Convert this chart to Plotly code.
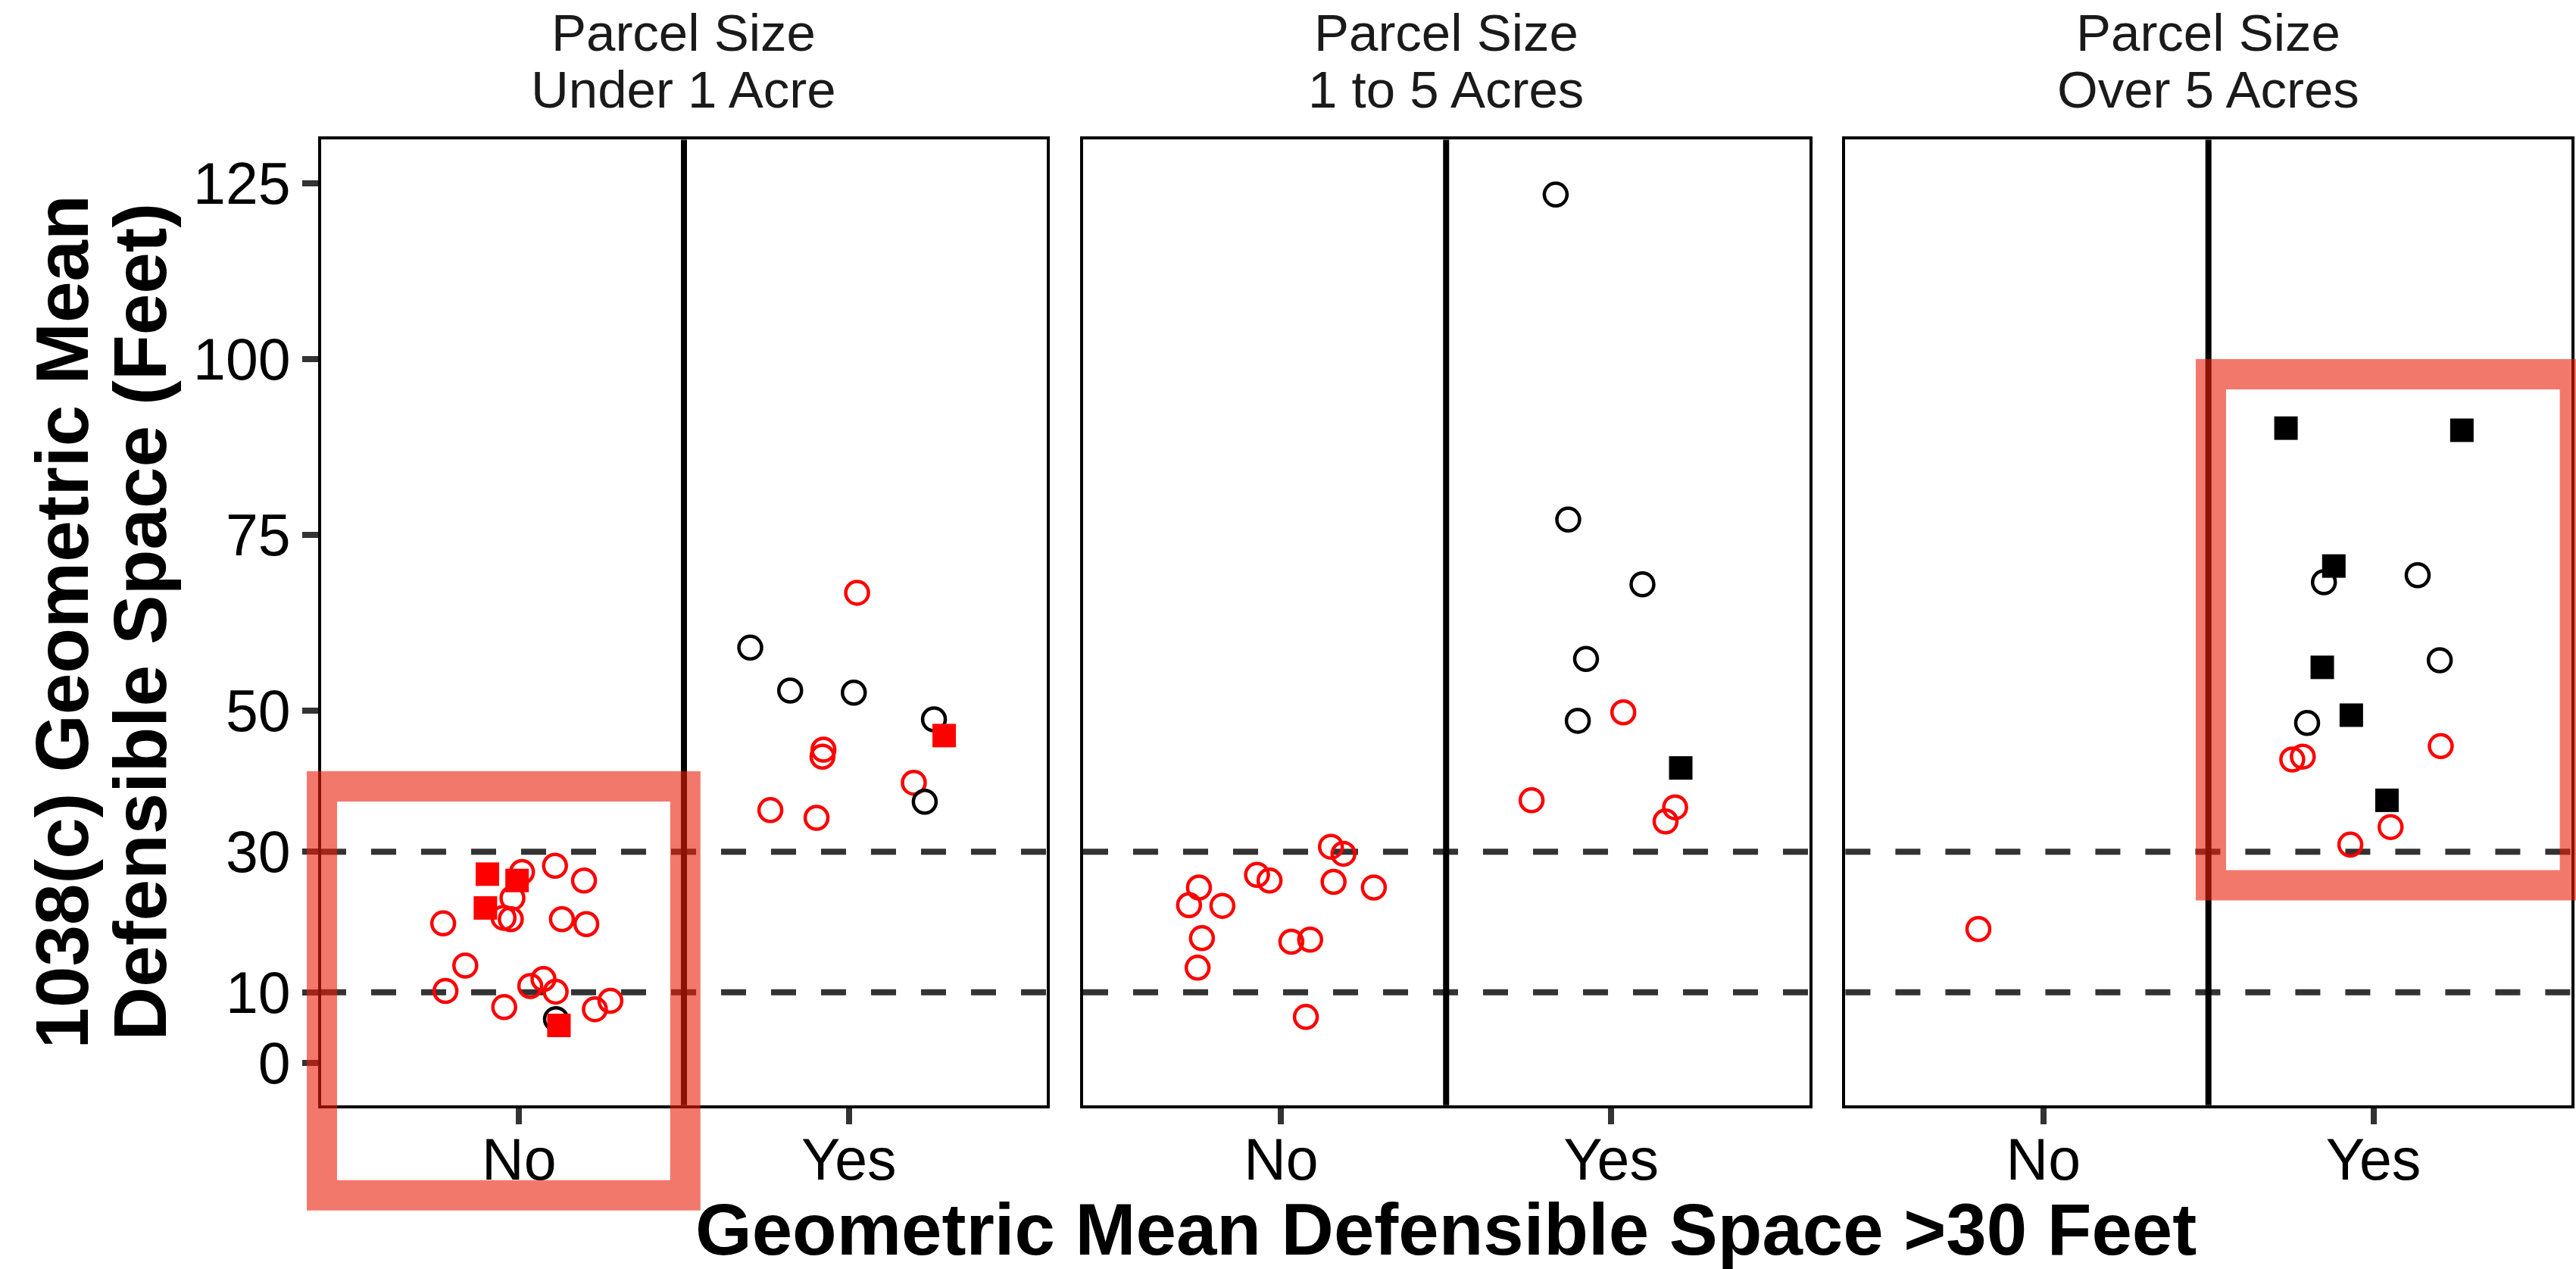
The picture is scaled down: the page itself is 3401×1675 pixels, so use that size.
import plotly.graph_objects as go

W, H = 3401, 1675
FONT = "Liberation Sans"

# ---------------- data ----------------
panel_labels = ["Parcel Size<br>Under 1 Acre", "Parcel Size<br>1 to 5 Acres", "Parcel Size<br>Over 5 Acres"]
x_categories = ["No", "Yes"]          # plotted at 1 and 2 (points jittered)
y_ticks = [0, 10, 30, 50, 75, 100, 125]
thresholds = [10, 30]

# Panel 1: Under 1 Acre
p1_red_circ_x = [1.009, 1.109, 1.197, 0.980, 0.770, 0.953, 0.975, 1.130, 1.204, 0.837, 0.777, 1.034,
                 1.074, 1.111, 0.955, 1.230, 1.277, 2.025, 1.923, 1.920, 2.197, 1.762, 1.902]
p1_red_circ_y = [27.1, 28.0, 25.9, 23.4, 19.8, 20.6, 20.4, 20.4, 19.7, 13.8, 10.2, 10.9,
                 11.9, 10.1, 7.9, 7.6, 8.8, 66.8, 44.5, 43.5, 39.8, 35.9, 34.8]
p1_blk_circ_x = [1.112, 1.701, 1.822, 2.015, 2.258, 2.230]
p1_blk_circ_y = [6.2, 59.0, 52.9, 52.6, 48.8, 37.1]
p1_red_sq_x = [0.904, 0.994, 0.898, 1.121, 2.289]
p1_red_sq_y = [26.8, 25.9, 22.0, 5.3, 46.5]
p1_blk_sq_x = []
p1_blk_sq_y = []

# Panel 2: 1 to 5 Acres
p2_red_circ_x = [1.151, 1.189, 0.927, 0.965, 1.159, 1.281, 0.751, 0.721, 0.822, 0.760, 1.031, 1.088,
                 0.747, 1.075, 2.037, 1.759, 2.194, 2.165]
p2_red_circ_y = [30.7, 29.7, 26.7, 25.9, 25.7, 24.9, 24.9, 22.4, 22.3, 17.7, 17.2, 17.5,
                 13.5, 6.5, 49.8, 37.3, 36.3, 34.3]
p2_blk_circ_x = [1.832, 1.870, 2.095, 1.924, 1.899]
p2_blk_circ_y = [123.4, 77.2, 68.0, 57.4, 48.6]
p2_red_sq_x = []
p2_red_sq_y = []
p2_blk_sq_x = [2.211]
p2_blk_sq_y = [41.9]

# Panel 3: Over 5 Acres
p3_red_circ_x = [0.803, 1.754, 1.786, 2.204, 2.052, 1.930]
p3_red_circ_y = [19.0, 43.1, 43.5, 45.0, 33.5, 31.0]
p3_blk_circ_x = [1.850, 2.134, 2.201, 1.799]
p3_blk_circ_y = [68.3, 69.3, 57.2, 48.3]
p3_red_sq_x = []
p3_red_sq_y = []
p3_blk_sq_x = [1.735, 2.268, 1.880, 1.845, 1.933, 2.041]
p3_blk_sq_y = [90.2, 89.9, 70.6, 56.2, 49.4, 37.3]

panels = [
    (p1_red_circ_x, p1_red_circ_y, p1_blk_circ_x, p1_blk_circ_y, p1_red_sq_x, p1_red_sq_y, p1_blk_sq_x, p1_blk_sq_y),
    (p2_red_circ_x, p2_red_circ_y, p2_blk_circ_x, p2_blk_circ_y, p2_red_sq_x, p2_red_sq_y, p2_blk_sq_x, p2_blk_sq_y),
    (p3_red_circ_x, p3_red_circ_y, p3_blk_circ_x, p3_blk_circ_y, p3_red_sq_x, p3_red_sq_y, p3_blk_sq_x, p3_blk_sq_y),
]

# ---------------- layout geometry (pixels) ----------------
px_panels = [(424, 1382), (1430, 2388.5), (2436.4, 3395)]
py_top, py_bot = 184.4, 1458.7
y_range = [-6.03, 131.2]
x_range = [0.4, 2.6]

def fx(px):
    return px / W

def fy(py):
    return 1 - py / H

fig = go.Figure()

for i, (rcx, rcy, bcx, bcy, rsx, rsy, bsx, bsy) in enumerate(panels):
    ax = "" if i == 0 else str(i + 1)
    xa, ya = "x" + ax, "y" + ax
    circ = dict(symbol="circle-open", size=30, line=dict(width=4.5))
    fig.add_trace(go.Scatter(x=rcx, y=rcy, mode="markers", xaxis=xa, yaxis=ya,
                             marker=dict(color="#FF0000", **circ), showlegend=False))
    fig.add_trace(go.Scatter(x=bcx, y=bcy, mode="markers", xaxis=xa, yaxis=ya,
                             marker=dict(color="#000000", **circ), showlegend=False))
    sq = dict(symbol="square", size=31, line=dict(width=0))
    fig.add_trace(go.Scatter(x=rsx, y=rsy, mode="markers", xaxis=xa, yaxis=ya,
                             marker=dict(color="#FF0000", **sq), showlegend=False))
    fig.add_trace(go.Scatter(x=bsx, y=bsy, mode="markers", xaxis=xa, yaxis=ya,
                             marker=dict(color="#000000", **sq), showlegend=False))

axis_common = dict(showgrid=False, zeroline=False, showline=True, mirror=True,
                   linecolor="black", linewidth=4, automargin=False)

layout = dict(
    width=W, height=H,
    margin=dict(l=0, r=0, t=0, b=0),
    paper_bgcolor="white", plot_bgcolor="white",
    template="none",
    showlegend=False,
    font=dict(family=FONT, color="black"),
)

shapes = []
annotations = []
for i, (x0p, x1p) in enumerate(px_panels):
    ax = "" if i == 0 else str(i + 1)
    layout["xaxis" + ax] = dict(
        domain=[fx(x0p), fx(x1p)], range=x_range, anchor="y" + ax,
        tickmode="array", tickvals=[1, 2], ticktext=x_categories,
        ticks="outside", ticklen=21, tickwidth=8, tickcolor="#333333",
        ticklabelstandoff=-19,
        tickfont=dict(family=FONT, size=77, color="black"),
        **axis_common)
    ydict = dict(domain=[fy(py_bot), fy(py_top)], range=y_range, anchor="x" + ax,
                 tickmode="array", tickvals=y_ticks, **axis_common)
    if i == 0:
        ydict.update(ticks="outside", ticklen=21, tickwidth=8, tickcolor="#333333",
                     tickfont=dict(family=FONT, size=77, color="black"))
    else:
        ydict.update(ticks="", showticklabels=False, matches="y")
    layout["yaxis" + ax] = ydict

    # dashed threshold lines
    for t in thresholds:
        shapes.append(dict(type="line", xref=("x" + ax + " domain"), yref="y" + ax,
                           x0=0, x1=1, y0=t, y1=t, layer="below",
                           line=dict(color="#333333", width=8, dash="33px,33px")))
    # divider between No / Yes
    shapes.append(dict(type="line", xref="x" + ax, yref=("y" + ax + " domain"),
                       x0=1.5, x1=1.5, y0=0, y1=1, layer="below",
                       line=dict(color="black", width=8)))
    # strip labels
    line1, line2 = panel_labels[i].split("<br>")
    cx = fx((x0p + x1p) / 2)
    annotations.append(dict(text=line1, x=cx, y=fy(43.3), xref="paper", yref="paper",
                            xanchor="center", yanchor="middle", showarrow=False,
                            font=dict(family=FONT, size=69, color="#1A1A1A")))
    annotations.append(dict(text=line2, x=cx, y=fy(118.5), xref="paper", yref="paper",
                            xanchor="center", yanchor="middle", showarrow=False,
                            font=dict(family=FONT, size=69, color="#1A1A1A")))

# axis titles
annotations.append(dict(text="<b>Geometric Mean Defensible Space >30 Feet</b>",
                        x=fx(1909), y=fy(1622), xref="paper", yref="paper",
                        xanchor="center", yanchor="middle", showarrow=False,
                        font=dict(family=FONT, size=96, color="black")))
annotations.append(dict(text="<b>1038(c) Geometric Mean</b>",
                        x=fx(81.5), y=fy(821), xref="paper", yref="paper",
                        xanchor="center", yanchor="middle", showarrow=False, textangle=-90,
                        font=dict(family=FONT, size=98, color="black")))
annotations.append(dict(text="<b>Defensible Space (Feet)</b>",
                        x=fx(184.5), y=fy(821), xref="paper", yref="paper",
                        xanchor="center", yanchor="middle", showarrow=False, textangle=-90,
                        font=dict(family=FONT, size=98, color="black")))

# highlight rectangles (drawn over everything)
hl = "rgba(235,30,10,0.6)"
shapes.append(dict(type="rect", xref="paper", yref="paper",
                   x0=fx(425), x1=fx(904.8), y0=fy(1577.7), y1=fy(1038), layer="above",
                   line=dict(color=hl, width=40), fillcolor="rgba(0,0,0,0)"))
shapes.append(dict(type="rect", xref="paper", yref="paper",
                   x0=fx(2919), x1=fx(3399.6), y0=fy(1168.5), y1=fy(494), layer="above",
                   line=dict(color=hl, width=40), fillcolor="rgba(0,0,0,0)"))

layout["shapes"] = shapes
layout["annotations"] = annotations
fig.update_layout(**layout)

fig.write_html("out.html",
               config={"displayModeBar": False},
               post_script="document.body.style.margin='0';document.body.style.padding='0';")
